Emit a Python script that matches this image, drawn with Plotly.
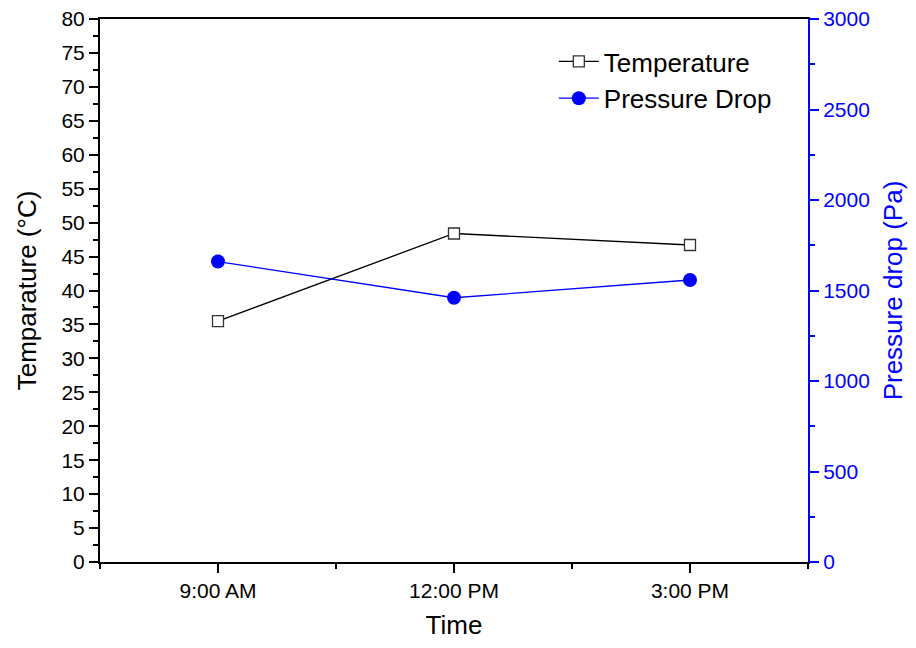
import plotly.graph_objects as go

times = ["9:00 AM", "12:00 PM", "3:00 PM"]
temperature = [35.5, 48.4, 46.7]
pressure_drop = [1660, 1460, 1558]

xpos = list(range(len(times)))
FONT = "Liberation Sans, Arial, sans-serif"
BLUE = "#0000ff"

fig = go.Figure()
fig.add_trace(go.Scatter(
    x=xpos, y=temperature, name="Temperature", mode="lines+markers",
    line=dict(color="black", width=1.3),
    marker=dict(symbol="square", size=11, color="white", line=dict(color="#333333", width=1.3)),
))
fig.add_trace(go.Scatter(
    x=xpos, y=pressure_drop, name="Pressure Drop", mode="lines+markers", yaxis="y2",
    line=dict(color=BLUE, width=1.3),
    marker=dict(symbol="circle", size=14, color=BLUE),
))

fig.update_layout(
    width=900, height=632,
    margin=dict(l=92, r=100, t=11, b=78, autoexpand=False),
    paper_bgcolor="white", plot_bgcolor="white",
    font=dict(family=FONT, size=21, color="black"),
    showlegend=True,
    legend=dict(x=0.641, y=0.965, xanchor="left", yanchor="top",
                bgcolor="rgba(0,0,0,0)", font=dict(size=26), itemwidth=40,
                tracegroupgap=0),
    xaxis=dict(
        range=[-0.5, 2.5], tickvals=xpos, ticktext=times, automargin=False,
        showline=True, linecolor="black", linewidth=2, mirror=True,
        ticks="outside", ticklen=9, tickwidth=2, tickcolor="black",
        minor=dict(tickvals=[-0.5, 0.5, 1.5, 2.5], ticks="outside", ticklen=5, tickwidth=2, tickcolor="black"),
        showgrid=False, zeroline=False,
        title=dict(text="Time", font=dict(size=26), standoff=29),
        tickfont=dict(size=21),
    ),
    yaxis=dict(
        range=[0, 80], dtick=5, tick0=0, automargin=False, ticklabeloverflow="allow",
        showline=True, linecolor="black", linewidth=2,
        ticks="outside", ticklen=9, tickwidth=2, tickcolor="black",
        minor=dict(dtick=2.5, tick0=0, ticks="outside", ticklen=5, tickwidth=2, tickcolor="black"),
        showgrid=False, zeroline=False,
        title=dict(text="Temparature (°C)", font=dict(size=26), standoff=17),
        tickfont=dict(size=21),
    ),
    yaxis2=dict(
        range=[0, 3000], dtick=500, tick0=0, overlaying="y", side="right", automargin=False,
        ticklabeloverflow="allow",
        showline=True, linecolor=BLUE, linewidth=2,
        ticks="outside", ticklen=9, tickwidth=2, tickcolor=BLUE,
        minor=dict(dtick=250, tick0=0, ticks="outside", ticklen=5, tickwidth=2, tickcolor=BLUE),
        showgrid=False, zeroline=False,
        title=dict(text="Pressure drop (Pa)", font=dict(size=26, color=BLUE), standoff=26),
        tickfont=dict(size=21, color=BLUE),
    ),
)

fig.write_html("out.html")
